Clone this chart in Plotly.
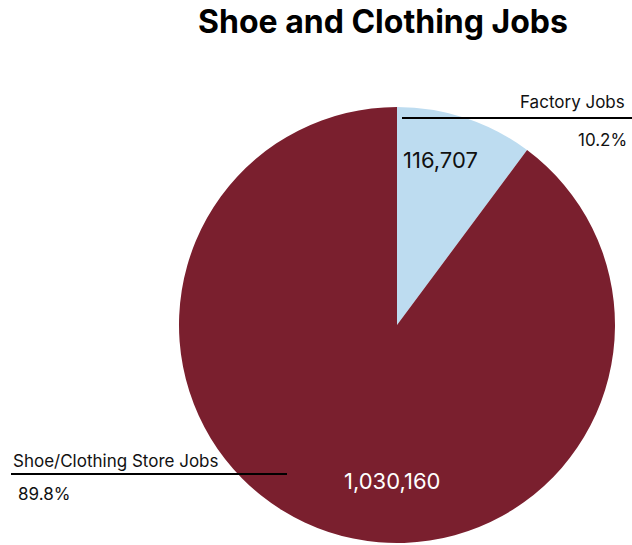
import plotly.graph_objects as go

# Job counts by category
categories = ["Factory Jobs", "Shoe/Clothing Store Jobs"]
jobs = [116707, 1030160]
colors = ["#bddcf0", "#7a1f2e"]

W, H = 632, 545
total = sum(jobs)
shares = [v / total * 100 for v in jobs]


def px(x):
    return x / W


def py(y):
    return 1 - y / H


# Pie geometry in pixels
cx, cy, r = 397, 325, 218

fig = go.Figure(
    go.Pie(
        labels=categories,
        values=jobs,
        sort=False,
        direction="clockwise",
        rotation=0,
        marker=dict(colors=colors, line=dict(width=0)),
        textinfo="none",
        hoverinfo="label+value+percent",
        showlegend=False,
        domain=dict(x=[px(cx - r), px(cx + r)], y=[py(cy + r), py(cy - r)]),
    )
)

font = "Inter, 'Open Sans', sans-serif"


def label(x, y, text, size, color="#111111", xanchor="center"):
    return dict(x=px(x), y=py(y), text=text, showarrow=False,
                xanchor=xanchor, yanchor="middle",
                font=dict(family=font, size=size, color=color))


ann = [
    # Values inside slices
    label(440, 160, f"{jobs[0]:,}", 22),
    label(392, 481, f"{jobs[1]:,}", 22, color="#ffffff"),
    # Category callouts
    label(627, 102, categories[0], 17, xanchor="right"),
    label(629, 140, f"{shares[0]:.1f}%", 17, xanchor="right"),
    label(11, 461, categories[1], 17, xanchor="left"),
    label(16, 494, f"{shares[1]:.1f}%", 17, xanchor="left"),
]

shapes = [
    dict(type="line", xref="paper", yref="paper", x0=px(402), x1=px(632),
         y0=py(118), y1=py(118), line=dict(color="#000000", width=2)),
    dict(type="line", xref="paper", yref="paper", x0=px(11), x1=px(287),
         y0=py(474), y1=py(474), line=dict(color="#000000", width=2)),
]

fig.update_layout(
    width=W,
    height=H,
    margin=dict(l=0, r=0, t=0, b=0),
    paper_bgcolor="#ffffff",
    plot_bgcolor="#ffffff",
    title=dict(text="<b>Shoe and Clothing Jobs</b>", x=px(383), xanchor="center",
               y=py(22), yanchor="middle",
               font=dict(family=font, size=32, color="#000000")),
    annotations=ann,
    shapes=shapes,
)

fig.write_html("out.html")
